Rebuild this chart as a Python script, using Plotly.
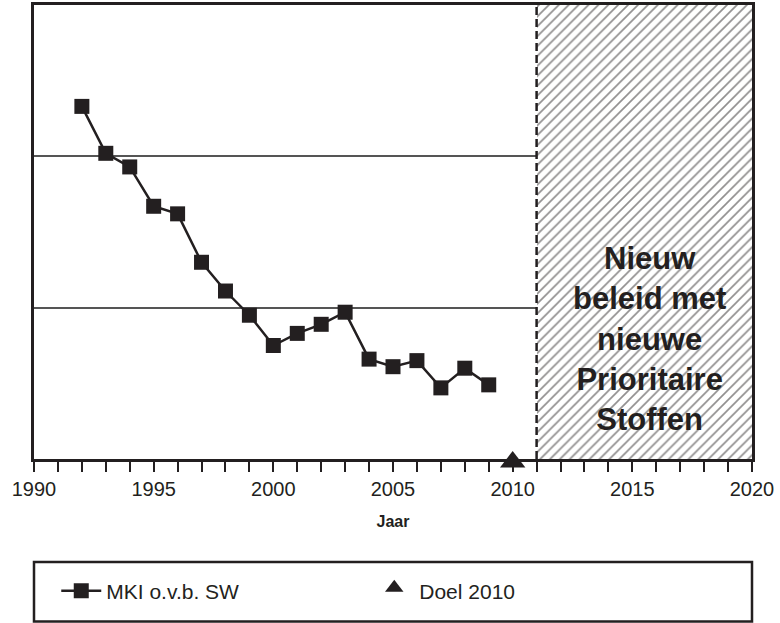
import plotly.graph_objects as go

years = list(range(1992, 2010))
mki = [2.33, 2.02, 1.93, 1.67, 1.62, 1.30, 1.11, 0.95, 0.75, 0.83, 0.89, 0.97,
       0.66, 0.61, 0.65, 0.47, 0.60, 0.49]
goal_year = [2010]
goal_value = [0]
policy_start = 2011
policy_end = 2020
policy_top = 3
policy_text = "Nieuw<br>beleid met<br>nieuwe<br>Prioritaire<br>Stoffen"

INK = "#231f20"
FONT = "Liberation Sans, Arial, sans-serif"

fig = go.Figure()

fig.add_trace(go.Bar(
    x=[(policy_start + policy_end) / 2], y=[policy_top], width=[policy_end - policy_start],
    marker=dict(color="white", line=dict(width=0),
                pattern=dict(shape="/", fgcolor=INK, bgcolor="white", size=7, solidity=0.24)),
    showlegend=False, hoverinfo="skip",
))

fig.add_trace(go.Scatter(
    x=years, y=mki, mode="lines+markers", name="MKI o.v.b. SW",
    line=dict(color=INK, width=2.5),
    marker=dict(symbol="square", size=15, color=INK),
))

fig.add_trace(go.Scatter(
    x=goal_year, y=goal_value, mode="markers", name="Doel 2010",
    marker=dict(symbol="triangle-up", size=22, color=INK, standoff=3),
    cliponaxis=False,
))

fig.add_shape(type="line", x0=policy_start, x1=policy_start, y0=0, y1=policy_top,
              xref="x", yref="y", line=dict(color=INK, width=2.5, dash="8px,4px"))

fig.add_annotation(x=2015.7, y=0.79, xref="x", yref="y", text="<b>" + policy_text + "</b>",
                   showarrow=False, font=dict(family=FONT, size=31, color=INK))

# legend frame
fig.add_shape(type="rect", xref="paper", yref="paper", x0=0, x1=1, y0=-0.358, y1=-0.227,
              line=dict(color=INK, width=2.5), fillcolor="rgba(0,0,0,0)")

fig.update_layout(
    width=780, height=623,
    margin=dict(l=34, r=28, t=5, b=164, autoexpand=False),
    paper_bgcolor="white", plot_bgcolor="white",
    font=dict(family=FONT, color=INK),
    bargap=0,
    showlegend=True,
    legend=dict(orientation="h", x=0.031, y=-0.291, xanchor="left", yanchor="middle",
                font=dict(family=FONT, size=21, color=INK),
                entrywidth=258, entrywidthmode="pixels", itemwidth=40,
                bgcolor="rgba(0,0,0,0)"),
    xaxis=dict(range=[1990, 2020], dtick=5, tick0=1990, ticks="outside", ticklen=10,
               tickwidth=1.5, tickcolor=INK, showgrid=False, zeroline=False, automargin=False,
               showline=True, linecolor=INK, linewidth=2.5, mirror=True,
               tickfont=dict(family=FONT, size=20, color=INK),
               minor=dict(dtick=1, ticks="outside", ticklen=10, tickwidth=1.5, tickcolor=INK),
               title=dict(text="<b>Jaar</b>", font=dict(family=FONT, size=16, color=INK), standoff=18)),
    yaxis=dict(range=[0, 3], dtick=1, showticklabels=False, ticks="", automargin=False,
               showgrid=True, gridcolor="#555555", gridwidth=1.5, zeroline=False,
               showline=True, linecolor=INK, linewidth=2.5, mirror=True),
)

fig.write_html("out.html", config={"displayModeBar": False},
               post_script="document.body.style.margin='0px';")
